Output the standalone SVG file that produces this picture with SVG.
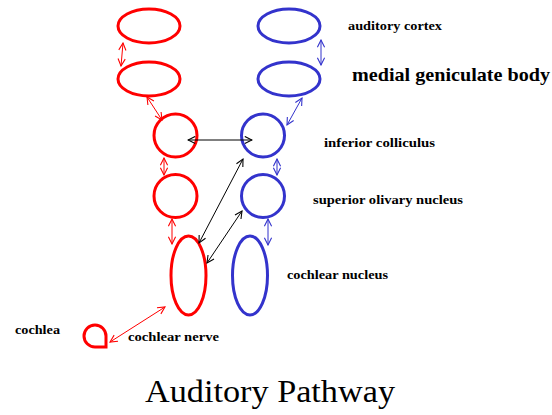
<svg xmlns="http://www.w3.org/2000/svg" width="552" height="415" viewBox="0 0 552 415">
<defs>
<style>
.red{fill:none;stroke:#ff0000;stroke-width:3}
.blue{fill:none;stroke:#3333cc;stroke-width:3}
.ar{stroke:#ff0000;stroke-width:1;fill:none;marker-start:url(#hr);marker-end:url(#hr)}
.ab{stroke:#3333cc;stroke-width:1;fill:none;marker-start:url(#hb);marker-end:url(#hb)}
.ak{stroke:#000;stroke-width:1;fill:none;marker-start:url(#hk);marker-end:url(#hk)}
.lbl{font-family:"Liberation Serif",serif;font-weight:bold;font-size:12px;fill:#000}
.big{font-family:"Liberation Serif",serif;font-weight:bold;font-size:19px;fill:#000}
.title{font-family:"Liberation Serif",serif;font-size:32px;fill:#000}
</style>
<marker id="hr" viewBox="0 0 10 10" refX="9" refY="5" markerWidth="9" markerHeight="9" markerUnits="userSpaceOnUse" orient="auto-start-reverse"><path d="M1,1 L9,5 L1,9" fill="none" stroke="#ff0000" stroke-width="1.2"/></marker>
<marker id="hb" viewBox="0 0 10 10" refX="9" refY="5" markerWidth="9" markerHeight="9" markerUnits="userSpaceOnUse" orient="auto-start-reverse"><path d="M1,1 L9,5 L1,9" fill="none" stroke="#3333cc" stroke-width="1.2"/></marker>
<marker id="hk" viewBox="0 0 10 10" refX="9" refY="5" markerWidth="9" markerHeight="9" markerUnits="userSpaceOnUse" orient="auto-start-reverse"><path d="M1,1 L9,5 L1,9" fill="none" stroke="#000" stroke-width="1.2"/></marker>
</defs>
<rect width="552" height="415" fill="#fff"/>
<g id="red-cortex"><ellipse class="red" cx="149" cy="26" rx="31" ry="17"/></g>
<g id="red-mgb"><ellipse class="red" cx="149" cy="79" rx="31" ry="17"/></g>
<g id="red-ic"><circle class="red" cx="175.5" cy="135.5" r="21.5"/></g>
<g id="red-son"><circle class="red" cx="175.5" cy="196" r="21.5"/></g>
<g id="red-cn"><ellipse class="red" cx="188.5" cy="275.5" rx="17.5" ry="39.5"/></g>
<g id="cochlea"><path class="red" d="M95,347 A11,11 0 1 1 106,336 L106,347 Z"/></g>
<g id="blue-cortex"><ellipse class="blue" cx="289" cy="26" rx="31" ry="17"/></g>
<g id="blue-mgb"><ellipse class="blue" cx="289" cy="79" rx="31" ry="17"/></g>
<g id="blue-ic"><circle class="blue" cx="263" cy="135.5" r="21.5"/></g>
<g id="blue-son"><circle class="blue" cx="263" cy="196" r="21.5"/></g>
<g id="blue-cn"><ellipse class="blue" cx="250" cy="275.5" rx="17.5" ry="39.5"/></g>
<g id="connectors">
<line class="ar" x1="123" y1="43" x2="121" y2="66"/>
<line class="ar" x1="147" y1="97" x2="162" y2="120"/>
<line class="ar" x1="164" y1="158" x2="164" y2="175"/>
<line class="ar" x1="172" y1="219" x2="172" y2="244"/>
<line class="ar" x1="165" y1="307" x2="110" y2="342"/>
<line class="ab" x1="321" y1="40" x2="321" y2="65"/>
<line class="ab" x1="302" y1="98" x2="287" y2="125"/>
<line class="ab" x1="277" y1="159" x2="277" y2="175"/>
<line class="ab" x1="268" y1="219" x2="268" y2="245"/>
<line class="ak" x1="188" y1="140" x2="252" y2="140"/>
<line class="ak" x1="243" y1="159" x2="199" y2="243"/>
<line class="ak" x1="242" y1="211" x2="207" y2="263"/>
</g>
<g id="labels">
<text class="lbl" x="348" y="30" textLength="94" lengthAdjust="spacingAndGlyphs">auditory cortex</text>
<text class="big" x="352" y="81" textLength="198" lengthAdjust="spacingAndGlyphs">medial geniculate body</text>
<text class="lbl" x="324" y="147" textLength="111" lengthAdjust="spacingAndGlyphs">inferior colliculus</text>
<text class="lbl" x="313" y="204" textLength="150" lengthAdjust="spacingAndGlyphs">superior olivary nucleus</text>
<text class="lbl" x="287" y="279" textLength="101" lengthAdjust="spacingAndGlyphs">cochlear nucleus</text>
<text class="lbl" x="15" y="334" textLength="45" lengthAdjust="spacingAndGlyphs">cochlea</text>
<text class="lbl" x="128" y="341" textLength="91" lengthAdjust="spacingAndGlyphs">cochlear nerve</text>
<text class="title" x="145" y="402" textLength="250" lengthAdjust="spacingAndGlyphs">Auditory Pathway</text>
</g>
</svg>
